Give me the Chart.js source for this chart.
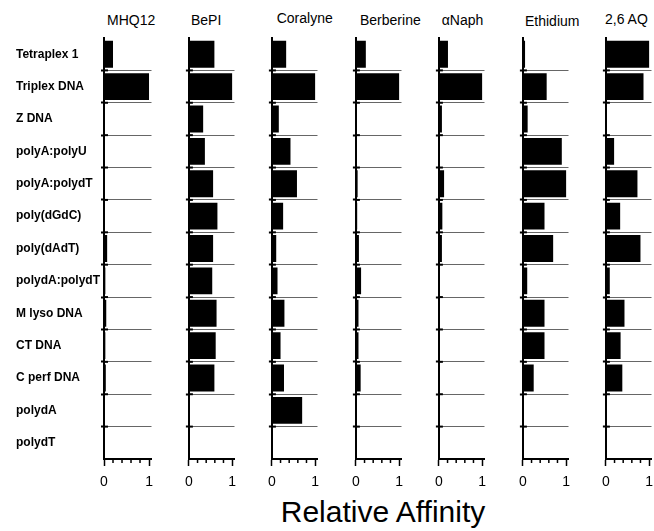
<!DOCTYPE html>
<html><head><meta charset="utf-8">
<script src="https://cdn.jsdelivr.net/npm/chart.js@4.4.1/dist/chart.umd.min.js"></script>
<style>
html,body{margin:0;padding:0;background:#fff;}
#wrap{position:relative;width:654px;height:531px;overflow:hidden;background:#fff;}
#wrap canvas{position:absolute;top:0;}
.ptitle{position:absolute;white-space:nowrap;font:14px/14px "Liberation Sans",Arial,sans-serif;color:#000;}
#xtitle{position:absolute;left:233px;width:300px;top:496.6px;text-align:center;white-space:nowrap;font:30px/30px "Liberation Sans",Arial,sans-serif;color:#000;}
</style></head><body>
<div id="wrap"><div id="xtitle">Relative Affinity</div></div>
<script>
const categories = ['Tetraplex 1','Triplex DNA','Z DNA','polyA:polyU','polyA:polydT','poly(dGdC)','poly(dAdT)','polydA:polydT','M lyso DNA','CT DNA','C perf DNA','polydA','polydT'];
const drugs = ['MHQ12','BePI','Coralyne','Berberine','\u03b1Naph','Ethidium','2,6 AQ'];
const mhq12     = [0.20, 1.00, 0.00, 0.00, 0.01, 0.00, 0.07, 0.03, 0.05, 0.03, 0.04, 0.00, 0.00];
const bepi      = [0.59, 1.00, 0.33, 0.37, 0.56, 0.66, 0.56, 0.54, 0.64, 0.62, 0.59, 0.01, 0.00];
const coralyne  = [0.33, 1.00, 0.16, 0.43, 0.58, 0.26, 0.10, 0.13, 0.29, 0.20, 0.28, 0.70, 0.00];
const berberine = [0.23, 1.00, 0.00, 0.00, 0.04, 0.03, 0.07, 0.12, 0.06, 0.06, 0.11, 0.00, 0.00];
const anaph     = [0.21, 1.00, 0.07, 0.00, 0.12, 0.08, 0.07, 0.00, 0.00, 0.00, 0.00, 0.00, 0.00];
const ethidium  = [0.05, 0.55, 0.11, 0.90, 1.00, 0.50, 0.70, 0.10, 0.50, 0.50, 0.25, 0.00, 0.00];
const aq26      = [1.00, 0.87, 0.01, 0.19, 0.73, 0.33, 0.80, 0.09, 0.43, 0.34, 0.38, 0.00, 0.00];
const series = [mhq12, bepi, coralyne, berberine, anaph, ethidium, aq26];
const majorTicks = [0, 1];
const minorTicks = [0.2, 0.4, 0.6, 0.8];
const xMax = 1.055;

const FONT = '"Liberation Sans", Arial, sans-serif';
const wrap = document.getElementById('wrap');
const axisX = [104, 187, 270, 354, 437, 521, 604];
const titleDX = [3, 4, 6.7, 6, 4.7, 4, 1];
const titleTop = [13.2, 13.2, 10.5, 13.2, 12.5, 14.2, 11.5];
const chartW = 47.5;
const H = 500;

const minorPlugin = {
  id: 'minorTicks',
  afterDraw(chart) {
    const {ctx, scales: {x, y}} = chart;
    ctx.save();
    ctx.strokeStyle = '#000';
    ctx.lineWidth = 1.5;
    minorTicks.forEach(v => {
      const px = x.getPixelForValue(v);
      ctx.beginPath(); ctx.moveTo(px, x.top); ctx.lineTo(px, x.top + 4); ctx.stroke();
    });
    ctx.lineWidth = 2;
    for (let i = 1; i < categories.length; i++) {
      const py = (y.getPixelForValue(i - 1) + y.getPixelForValue(i)) / 2;
      ctx.beginPath(); ctx.moveTo(x.left, py); ctx.lineTo(x.left + 4, py); ctx.stroke();
    }
    ctx.restore();
  }
};

const inner = ctx => ctx.index !== undefined && ctx.index >= 1 && ctx.index <= categories.length - 1;

series.forEach((vals, i) => {
  const t = document.createElement('div');
  t.className = 'ptitle';
  t.textContent = drugs[i];
  t.style.left = (axisX[i] + titleDX[i]) + 'px';
  t.style.top = titleTop[i] + 'px';
  wrap.appendChild(t);

  const cv = document.createElement('canvas');
  let left, width, padL, padR, yW;
  if (i === 0) {
    left = 0; width = 162; padL = 16; yW = axisX[0] - 16; padR = width - axisX[0] - chartW;
  } else {
    left = axisX[i] - 10; width = 68; padL = 0; yW = 10; padR = width - 10 - chartW;
  }
  cv.width = width; cv.height = H;
  cv.style.left = left + 'px';
  cv.style.width = width + 'px'; cv.style.height = H + 'px';
  wrap.appendChild(cv);
  new Chart(cv, {
    type: 'bar',
    data: {
      labels: categories,
      datasets: [{ label: drugs[i], data: vals, backgroundColor: '#000', borderWidth: 0, barPercentage: 0.83, categoryPercentage: 1 }]
    },
    options: {
      indexAxis: 'y', responsive: false, animation: false, devicePixelRatio: 1,
      layout: { padding: { left: padL, right: padR, top: 38, bottom: 0 } },
      plugins: { legend: { display: false }, tooltip: { enabled: false }, title: { display: false } },
      scales: {
        x: {
          type: 'linear', min: 0, max: xMax,
          afterBuildTicks: s => { s.ticks = majorTicks.map(v => ({ value: v })); },
          afterFit: s => { s.height = 41; },
          ticks: { color: '#000', font: { family: FONT, size: 14 }, padding: 8, maxRotation: 0, autoSkip: false, callback: v => String(v) },
          grid: { drawOnChartArea: false, drawTicks: true, tickLength: 7, tickColor: '#000', tickWidth: 1.5 },
          border: { display: true, color: '#000', width: 2 }
        },
        y: {
          type: 'category', offset: true,
          afterFit: s => { s.width = yW; },
          ticks: { display: i === 0, crossAlign: 'far', color: '#000', font: { family: FONT, size: 12, weight: 'bold' }, padding: 6, autoSkip: false },
          grid: { offset: true, color: ctx => inner(ctx) ? '#666' : 'rgba(0,0,0,0)', lineWidth: 1, drawTicks: true, tickLength: 3, tickColor: ctx => inner(ctx) ? '#000' : 'rgba(0,0,0,0)', tickWidth: 2 },
          border: { display: true, color: '#000', width: 2 }
        }
      }
    },
    plugins: [minorPlugin]
  });
});
</script>
</body></html>
